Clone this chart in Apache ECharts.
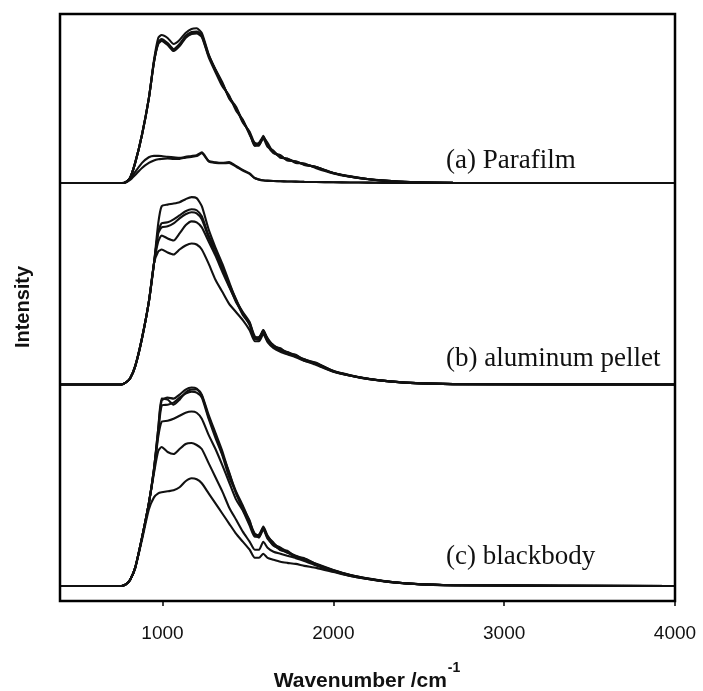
<!DOCTYPE html>
<html>
<head>
<meta charset="utf-8">
<script src="https://cdn.jsdelivr.net/npm/echarts@6.0.0/dist/echarts.min.js"></script>
<style>
html,body{margin:0;padding:0;background:#fff;}
#chart{width:703px;height:691px;}
</style>
</head>
<body>
<div id="chart"></div>
<script>
// Wavenumber grid (cm^-1) shared by every spectrum
const W = [400,760,785,810,840,880,920,950,975,995,1030,1065,1100,1135,1170,1200,1230,1270,1310,1350,1390,1430,1470,1510,1540,1565,1590,1615,1650,1690,1730,1780,1830,1900,2000,2100,2200,2300,2450,2700,4000];

// (a) Parafilm
const a1 = [0,0,0.005,0.025,0.1,0.24,0.42,0.61,0.72,0.735,0.72,0.69,0.71,0.745,0.765,0.768,0.745,0.64,0.56,0.49,0.43,0.37,0.31,0.245,0.185,0.2,0.23,0.19,0.155,0.13,0.12,0.105,0.095,0.078,0.05,0.033,0.02,0.012,0.005,0.001,0];
const a2 = [0,0,0.005,0.025,0.1,0.24,0.42,0.6,0.7,0.715,0.695,0.665,0.69,0.73,0.75,0.752,0.735,0.635,0.565,0.5,0.42,0.375,0.3,0.255,0.195,0.19,0.225,0.2,0.15,0.138,0.112,0.108,0.09,0.08,0.05,0.032,0.02,0.012,0.005,0.001,0];
const a3 = [0,0,0.005,0.025,0.1,0.24,0.42,0.6,0.69,0.705,0.685,0.655,0.68,0.72,0.74,0.742,0.725,0.625,0.55,0.48,0.435,0.36,0.315,0.24,0.2,0.195,0.22,0.18,0.16,0.125,0.122,0.1,0.097,0.074,0.048,0.031,0.019,0.011,0.004,0.001,0];
const a4 = [0,0,0.005,0.025,0.1,0.24,0.42,0.6,0.695,0.71,0.69,0.66,0.685,0.725,0.745,0.748,0.73,0.632,0.56,0.495,0.425,0.38,0.305,0.25,0.185,0.185,0.235,0.185,0.148,0.135,0.115,0.106,0.092,0.079,0.05,0.032,0.02,0.012,0.005,0.001,0];
const a5 = [0,0,0.004,0.02,0.055,0.1,0.128,0.135,0.135,0.134,0.13,0.128,0.125,0.13,0.134,0.138,0.152,0.11,0.103,0.1,0.104,0.085,0.065,0.048,0.025,0.018,0.014,0.012,0.01,0.009,0.008,0.007,0.006,0.005,0.004,0.003,0.002,0.001,0,0,0];
const a6 = [0,0,0.003,0.015,0.04,0.075,0.1,0.112,0.118,0.12,0.122,0.12,0.12,0.126,0.13,0.134,0.148,0.108,0.1,0.098,0.1,0.082,0.062,0.045,0.024,0.017,0.013,0.011,0.01,0.009,0.008,0.007,0.006,0.005,0.004,0.003,0.002,0.001,0,0,0];

// (b) aluminum pellet
const b1 = [0,0,0.01,0.03,0.09,0.23,0.41,0.6,0.8,0.885,0.893,0.898,0.905,0.92,0.93,0.925,0.885,0.77,0.68,0.6,0.51,0.42,0.36,0.31,0.235,0.235,0.27,0.225,0.195,0.175,0.162,0.145,0.125,0.105,0.068,0.046,0.03,0.019,0.008,0.002,0];
const b2 = [0,0,0.01,0.03,0.09,0.23,0.41,0.6,0.76,0.8,0.805,0.82,0.84,0.86,0.87,0.865,0.835,0.74,0.67,0.585,0.5,0.425,0.35,0.305,0.24,0.225,0.265,0.23,0.19,0.18,0.155,0.148,0.12,0.108,0.066,0.045,0.029,0.018,0.008,0.002,0];
const b3 = [0,0,0.01,0.03,0.09,0.23,0.41,0.6,0.75,0.78,0.785,0.8,0.825,0.845,0.855,0.85,0.82,0.73,0.65,0.575,0.49,0.41,0.355,0.295,0.225,0.235,0.26,0.215,0.195,0.168,0.16,0.138,0.125,0.1,0.065,0.044,0.028,0.018,0.008,0.002,0];
const b4 = [0,0,0.01,0.03,0.09,0.23,0.41,0.6,0.71,0.74,0.725,0.715,0.75,0.79,0.81,0.805,0.78,0.71,0.64,0.56,0.485,0.415,0.345,0.3,0.23,0.222,0.27,0.22,0.185,0.175,0.152,0.143,0.118,0.104,0.066,0.045,0.029,0.018,0.008,0.002,0];
const b5 = [0,0,0.01,0.03,0.09,0.23,0.41,0.6,0.66,0.67,0.655,0.645,0.67,0.69,0.7,0.695,0.67,0.6,0.52,0.46,0.4,0.36,0.32,0.27,0.215,0.215,0.25,0.21,0.18,0.163,0.15,0.135,0.118,0.097,0.064,0.044,0.028,0.018,0.008,0.002,0];

// (c) blackbody
const c1 = [0,0,0.008,0.03,0.09,0.24,0.41,0.58,0.78,0.92,0.935,0.93,0.95,0.975,0.985,0.98,0.95,0.85,0.76,0.67,0.56,0.47,0.4,0.32,0.26,0.25,0.295,0.25,0.21,0.19,0.17,0.15,0.135,0.11,0.08,0.055,0.038,0.025,0.012,0.004,0];
const c2 = [0,0,0.008,0.03,0.09,0.24,0.41,0.58,0.78,0.93,0.925,0.9,0.925,0.96,0.975,0.975,0.945,0.84,0.75,0.655,0.565,0.46,0.39,0.325,0.25,0.255,0.29,0.245,0.215,0.18,0.175,0.145,0.138,0.108,0.078,0.054,0.037,0.024,0.012,0.004,0];
const c3 = [0,0,0.008,0.03,0.09,0.24,0.41,0.58,0.76,0.895,0.9,0.91,0.935,0.955,0.965,0.96,0.935,0.83,0.735,0.65,0.54,0.465,0.38,0.31,0.255,0.24,0.285,0.24,0.2,0.185,0.165,0.148,0.13,0.107,0.077,0.053,0.036,0.024,0.012,0.004,0];
const c4 = [0,0,0.008,0.03,0.09,0.24,0.41,0.57,0.74,0.815,0.82,0.83,0.845,0.86,0.866,0.86,0.83,0.75,0.68,0.6,0.515,0.43,0.375,0.3,0.245,0.245,0.28,0.235,0.205,0.178,0.168,0.143,0.133,0.105,0.075,0.052,0.036,0.024,0.011,0.004,0];
const c5 = [0,0,0.008,0.03,0.09,0.24,0.41,0.56,0.67,0.69,0.665,0.655,0.68,0.705,0.71,0.7,0.68,0.61,0.54,0.47,0.39,0.33,0.27,0.22,0.18,0.18,0.22,0.19,0.17,0.16,0.15,0.138,0.124,0.102,0.073,0.05,0.035,0.023,0.011,0.004,0];
const c6 = [0,0,0.008,0.03,0.09,0.23,0.38,0.44,0.46,0.465,0.47,0.475,0.49,0.52,0.535,0.53,0.51,0.46,0.41,0.36,0.31,0.26,0.22,0.18,0.14,0.14,0.16,0.14,0.13,0.12,0.115,0.11,0.1,0.09,0.07,0.05,0.035,0.023,0.011,0.004,0];

const panelLabels = ['(a) Parafilm', '(b) aluminum pellet', '(c) blackbody'];
const tickValues = [1000, 2000, 3000, 4000];
const xTitle = 'Wavenumber /cm';
const xTitleSup = '-1';
const yTitle = 'Intensity';

const panels = [
  {offset: 2, curves: [a1, a2, a3, a4, a5, a6]},
  {offset: 1, curves: [b1, b2, b3, b4, b5]},
  {offset: 0, curves: [c1, c2, c3, c4, c5, c6]}
];

const series = [];
panels.forEach(p => {
  p.curves.forEach(arr => {
    series.push({
      type: 'line',
      data: W.map((w, i) => [w, arr[i] + p.offset]),
      showSymbol: false,
      symbol: 'none',
      smooth: 0.2,
      lineStyle: {color: '#111', width: 2.1},
      silent: true,
      z: 2
    });
  });
});

const chart = echarts.init(document.getElementById('chart'), null, {renderer: 'canvas'});
chart.setOption({
  animation: false,
  backgroundColor: '#fff',
  grid: {left: 60, right: 28, top: 14, bottom: 90, show: true, borderColor: '#000', borderWidth: 2.5, backgroundColor: 'transparent', z: 5},
  xAxis: {
    type: 'value', min: 400, max: 4000,
    axisLine: {show: false, onZero: false},
    axisTick: {show: true, inside: false, length: 5, customValues: tickValues, lineStyle: {color: '#000', width: 1.5}},
    axisLabel: {show: true, customValues: tickValues, margin: 23, color: '#111', fontFamily: 'Liberation Sans', fontSize: 19, formatter: v => String(v)},
    splitLine: {show: false}
  },
  yAxis: {
    type: 'value', min: -0.0744, max: 2.839,
    axisLine: {show: false}, axisTick: {show: false}, axisLabel: {show: false}, splitLine: {show: false}
  },
  series: series,
  graphic: [
    {type: 'text', x: 446, y: 161, style: {text: panelLabels[0], font: '27px "Liberation Serif"', fill: '#111', textAlign: 'left', align: 'left', textVerticalAlign: 'middle', verticalAlign: 'middle'}},
    {type: 'text', x: 446, y: 359, style: {text: panelLabels[1], font: '27px "Liberation Serif"', fill: '#111', textAlign: 'left', align: 'left', textVerticalAlign: 'middle', verticalAlign: 'middle'}},
    {type: 'text', x: 446, y: 557, style: {text: panelLabels[2], font: '27px "Liberation Serif"', fill: '#111', textAlign: 'left', align: 'left', textVerticalAlign: 'middle', verticalAlign: 'middle'}},
    {type: 'text', x: 23, y: 307, rotation: Math.PI / 2, style: {text: yTitle, font: 'bold 20px "Liberation Sans"', fill: '#111', textAlign: 'center', align: 'center', textVerticalAlign: 'middle', verticalAlign: 'middle'}},
    {type: 'text', x: 367, y: 666, style: {
      text: '{m|' + xTitle + '}{s|' + xTitleSup + '}',
      textAlign: 'center', align: 'center', textVerticalAlign: 'top', verticalAlign: 'top',
      rich: {
        m: {font: 'bold 21px "Liberation Sans"', fill: '#111', lineHeight: 20, padding: [10, 0, 0, 0]},
        s: {font: 'bold 14px "Liberation Sans"', fill: '#111', lineHeight: 14, padding: [0, 0, 16, 1]}
      }
    }}
  ]
});
</script>
</body>
</html>
